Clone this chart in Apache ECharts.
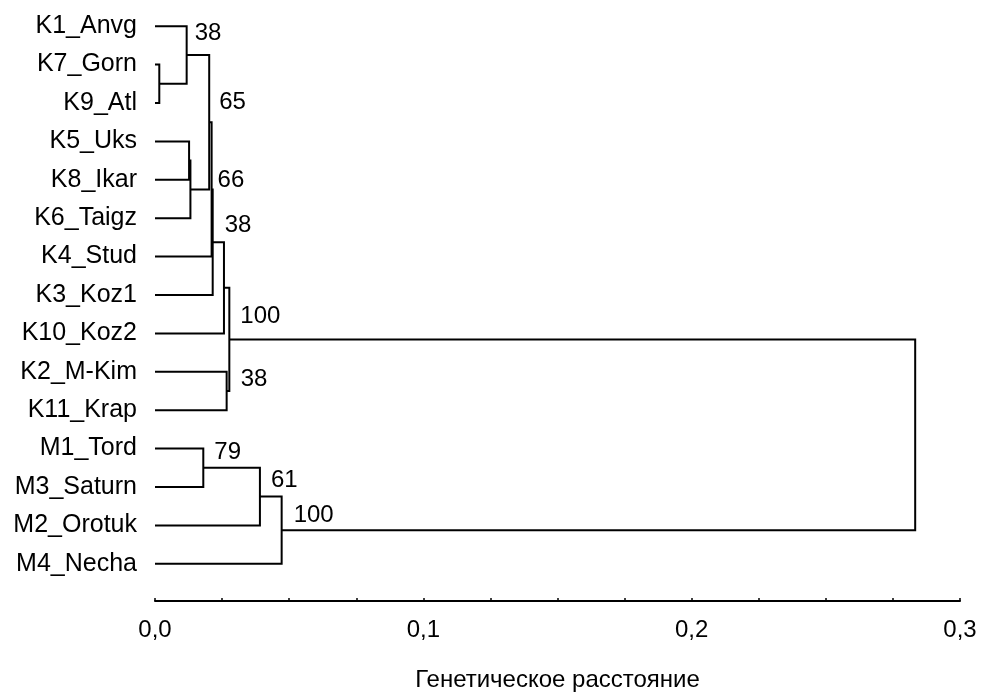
<!DOCTYPE html>
<html>
<head>
<meta charset="utf-8">
<script src="https://cdn.jsdelivr.net/npm/echarts@6/dist/echarts.min.js"></script>
<style>
html,body{margin:0;padding:0;background:#fff;}
#chart{width:984px;height:697px;}
</style>
</head>
<body>
<div id="chart"></div>
<script>
// Leaves (top to bottom)
const leaves = ['K1_Anvg','K7_Gorn','K9_Atl','K5_Uks','K8_Ikar','K6_Taigz','K4_Stud','K3_Koz1','K10_Koz2','K2_M-Kim','K11_Krap','M1_Tord','M3_Saturn','M2_Orotuk','M4_Necha'];
// Merges: children indices (0-14 leaves, 15+ internal nodes in order)
const mergeA = [1, 0, 3, 17, 16, 19, 20, 21, 9, 22, 11, 25, 26, 24];
const mergeB = [2, 15, 4, 5, 18, 6, 7, 8, 10, 23, 12, 13, 14, 27];
// Node heights (genetic distance)
const heights = [0.0016, 0.0118, 0.0127, 0.0132, 0.0202, 0.0211, 0.0215, 0.0257, 0.0267, 0.0277, 0.0180, 0.0391, 0.0472, 0.2833];
// Bootstrap support
const support = ['', '38', '', '', '65', '66', '38', '', '38', '100', '79', '61', '100', ''];
// X axis ticks
const xMin = 0, xMax = 0.3, xStep = 0.1;
const axisTitle = 'Генетическое расстояние';

// Layout: label pixel offsets from node (x, mid y)
const labelOffsets = [[0,0],[8,-22],[0,0],[0,0],[10,-20],[6,-9],[12,-17],[0,0],[14,-12],[11,-23],[11,-15],[11,-16],[12,-15],[0,0]];

const nLeaves = leaves.length;
const FONT = '"Liberation Sans", Arial, sans-serif';

function nodeX(idx){ return idx < nLeaves ? 0 : heights[idx - nLeaves]; }
function nodeY(api, idx){
  if (idx < nLeaves) return api.coord([0, idx])[1];
  const j = idx - nLeaves;
  return (nodeY(api, mergeA[j]) + nodeY(api, mergeB[j])) / 2;
}

const chart = echarts.init(document.getElementById('chart'), null, {renderer:'canvas'});
chart.setOption({
  animation: false,
  backgroundColor: '#fff',
  grid: {left: 155, right: 24, top: 7, bottom: 107, containLabel: false},
  xAxis: {
    type: 'value', min: xMin, max: xMax, interval: xStep,
    offset: 18,
    axisLine: {show: true, lineStyle: {color: '#000', width: 2}},
    axisTick: {show: true, inside: true, length: 3, lineStyle: {color: '#000', width: 1.5}},
    minorTick: {show: true, splitNumber: 4, length: 3, lineStyle: {color: '#000', width: 1.5}},
    splitLine: {show: false},
    axisLabel: {
      margin: 17, fontSize: 24, color: '#000', fontFamily: FONT,
      formatter: v => v.toFixed(1).replace('.', ',')
    },
    name: axisTitle, nameLocation: 'middle', nameGap: 67,
    nameTextStyle: {fontSize: 24, color: '#000', fontFamily: FONT}
  },
  yAxis: {
    type: 'category', inverse: true, data: leaves,
    axisLine: {show: false}, axisTick: {show: false}, splitLine: {show: false},
    axisLabel: {margin: 18, fontSize: 25, color: '#000', fontFamily: FONT, padding: [4, 0, 0, 0]}
  },
  series: [{
    type: 'custom',
    clip: false,
    encode: {x: 0, y: 1},
    data: heights.map((h, i) => [h, 0, i]),
    renderItem: function(params, api){
      const i = params.dataIndex;
      const a = mergeA[i], b = mergeB[i];
      const px = api.coord([heights[i], 0])[0];
      const xa = api.coord([nodeX(a), 0])[0];
      const xb = api.coord([nodeX(b), 0])[0];
      const ya = nodeY(api, a), yb = nodeY(api, b);
      const ym = (ya + yb) / 2;
      const children = [{
        type: 'polyline',
        shape: {points: [[xa, ya], [px, ya], [px, yb], [xb, yb]]},
        style: {stroke: '#000', lineWidth: 2, fill: null, lineJoin: 'miter', lineCap: 'butt'}
      }];
      if (support[i]) {
        const off = labelOffsets[i];
        children.push({
          type: 'text',
          style: {
            text: support[i], x: px + off[0], y: ym + off[1],
            fill: '#000', font: '24px ' + FONT,
            textAlign: 'left', textVerticalAlign: 'middle', verticalAlign: 'middle'
          }
        });
      }
      return {type: 'group', children: children};
    }
  }]
});
</script>
</body>
</html>
